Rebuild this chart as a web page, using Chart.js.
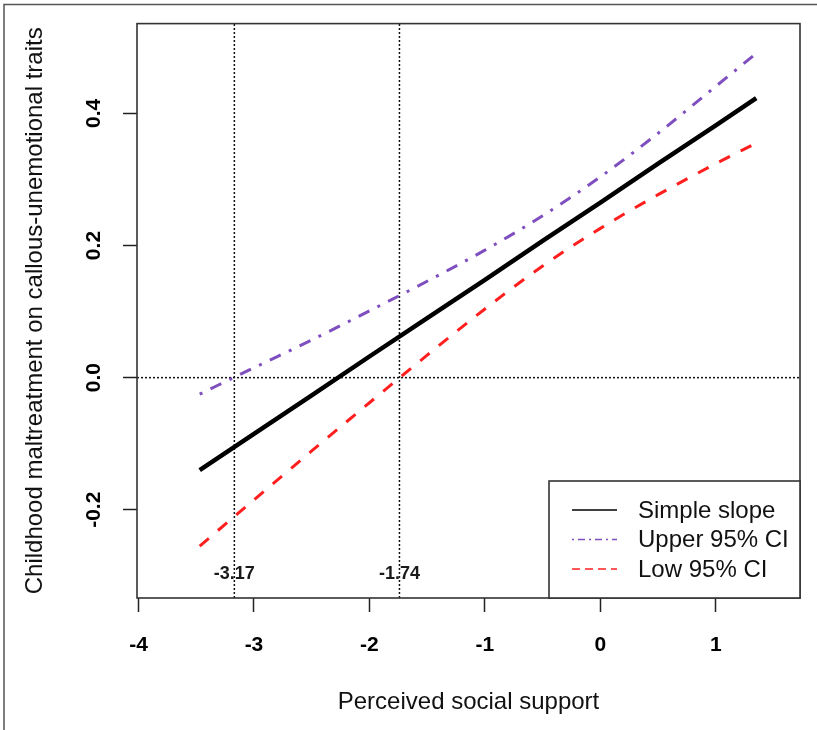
<!DOCTYPE html>
<html>
<head>
<meta charset="utf-8">
<script src="https://cdn.jsdelivr.net/npm/chart.js@4.4.1/dist/chart.umd.min.js"></script>
<style>
  html, body { margin: 0; padding: 0; background: #fff; }
  #wrap { width: 817px; height: 730px; }
</style>
</head>
<body>
<div id="wrap"><canvas id="slopes" width="817" height="730"></canvas></div>
<script>
(function () {
    "use strict";

    // values
    var supportValues = [-3.47, -3, -2.5, -2, -1.5, -1, -0.5, 0, 0.5, 1, 1.35];
    var simpleSlope = [-0.140, -0.085, -0.027, 0.032, 0.090, 0.148, 0.207, 0.265, 0.324, 0.382, 0.423];
    var upperCI = [-0.025, 0.015, 0.057, 0.101, 0.146, 0.193, 0.245, 0.304, 0.370, 0.441, 0.491];
    var lowerCI = [-0.255, -0.185, -0.111, -0.038, 0.034, 0.104, 0.169, 0.226, 0.277, 0.324, 0.355];
    var seriesLabels = ["Simple slope", "Upper 95% CI", "Low 95% CI"];

    var jnPoints = [-3.17, -1.74];
    var jnLabelY = -0.3;
    var xTicks = [-4, -3, -2, -1, 0, 1];
    var yTicks = [-0.2, 0, 0.2, 0.4];

    var X_MIN = -4.013, X_MAX = 1.729;
    var Y_MIN = -0.3336, Y_MAX = 0.536;
    var FONT = "'Liberation Sans', Arial, sans-serif";

    function toPoints(ys) {
        return supportValues.map(function (x, i) {
            return { x: x, y: ys[i] };
        });
    }

    var refLines = jnPoints.map(function (v) {
        return {
            data: [{ x: v, y: Y_MIN }, { x: v, y: Y_MAX }],
            borderColor: "#111",
            borderWidth: 1.5,
            borderDash: [2, 2],
            pointRadius: 0
        };
    });
    refLines.push({
        data: [{ x: X_MIN, y: 0 }, { x: X_MAX, y: 0 }],
        borderColor: "#111",
        borderWidth: 1.5,
        borderDash: [2, 2],
        pointRadius: 0
    });

    var series = [
        {
            label: seriesLabels[0],
            data: toPoints(simpleSlope),
            borderColor: "#000",
            borderWidth: 4.5,
            legendDash: [],
            pointRadius: 0
        },
        {
            label: seriesLabels[1],
            data: toPoints(upperCI),
            borderColor: "#7f4fbf",
            borderWidth: 3,
            borderDash: [3, 9, 12, 9],
            legendDash: [2, 4, 7, 4],
            cubicInterpolationMode: "monotone",
            pointRadius: 0
        },
        {
            label: seriesLabels[2],
            data: toPoints(lowerCI),
            borderColor: "#ff1f1f",
            borderWidth: 3,
            borderDash: [12, 12],
            legendDash: [8, 5],
            cubicInterpolationMode: "monotone",
            pointRadius: 0
        }
    ];

    var framePlugin = {
        id: "frame",
        beforeDraw: function (chart) {
            var ctx = chart.ctx;
            ctx.save();
            ctx.fillStyle = "#fff";
            ctx.fillRect(0, 0, chart.width, chart.height);
            ctx.strokeStyle = "#555";
            ctx.lineWidth = 1.5;
            ctx.beginPath();
            ctx.moveTo(4, chart.height);
            ctx.lineTo(4, 4.5);
            ctx.lineTo(chart.width, 4.5);
            ctx.stroke();
            ctx.restore();
        },
        afterDatasetsDraw: function (chart) {
            var ctx = chart.ctx, a = chart.chartArea;
            var xs = chart.scales.x, ys = chart.scales.y;
            ctx.save();
            ctx.strokeStyle = "#333";
            ctx.lineWidth = 1.6;
            ctx.strokeRect(a.left, a.top, a.right - a.left, a.bottom - a.top);

            ctx.fillStyle = "#1a1a1a";
            ctx.font = "bold 18px " + FONT;
            ctx.textAlign = "center";
            ctx.textBaseline = "middle";
            jnPoints.forEach(function (v) {
                ctx.fillText(v.toFixed(2), xs.getPixelForValue(v), ys.getPixelForValue(jnLabelY) - 2);
            });
            ctx.restore();
        }
    };

    var legendPlugin = {
        id: "legendBox",
        afterDraw: function (chart) {
            var ctx = chart.ctx, a = chart.chartArea;
            var left = a.right - 251, top = a.bottom - 117;
            ctx.save();
            ctx.fillStyle = "#fff";
            ctx.fillRect(left, top, a.right - left, a.bottom - top);
            ctx.strokeStyle = "#333";
            ctx.lineWidth = 1.6;
            ctx.strokeRect(left, top, a.right - left, a.bottom - top);

            ctx.font = "24px " + FONT;
            ctx.textBaseline = "middle";
            ctx.textAlign = "left";
            series.forEach(function (ds, i) {
                var y = top + 29 + i * 29.5;
                ctx.strokeStyle = ds.borderColor;
                ctx.lineWidth = 1.5;
                ctx.setLineDash(ds.legendDash);
                ctx.beginPath();
                ctx.moveTo(left + 23, y);
                ctx.lineTo(left + 68, y);
                ctx.stroke();
                ctx.setLineDash([]);
                ctx.fillStyle = "#111";
                ctx.fillText(ds.label, left + 89, y + 1);
            });
            ctx.restore();
        }
    };

    new Chart(document.getElementById("slopes"), {
        type: "line",
        data: { datasets: series.concat(refLines) },
        options: {
            responsive: false,
            animation: false,
            parsing: false,
            layout: { padding: { left: 0, right: 17, top: 22, bottom: 0 } },
            plugins: {
                legend: { display: false },
                tooltip: { enabled: false }
            },
            scales: {
                x: {
                    type: "linear",
                    min: X_MIN,
                    max: X_MAX,
                    afterBuildTicks: function (scale) {
                        scale.ticks = xTicks.map(function (v) { return { value: v }; });
                    },
                    afterFit: function (scale) { scale.height = 132; },
                    grid: {
                        drawOnChartArea: false,
                        drawTicks: true,
                        tickLength: 14,
                        tickColor: "#222",
                        tickWidth: 1.5
                    },
                    border: { display: false },
                    ticks: {
                        color: "#000",
                        font: { family: FONT, size: 21, weight: "bold" },
                        padding: 21,
                        maxRotation: 0,
                        callback: function (v) { return String(v); }
                    },
                    title: {
                        display: true,
                        text: "Perceived social support",
                        color: "#111",
                        font: { family: FONT, size: 24 },
                        padding: { top: 0, bottom: 13 }
                    }
                },
                y: {
                    type: "linear",
                    min: Y_MIN,
                    max: Y_MAX,
                    afterBuildTicks: function (scale) {
                        scale.ticks = yTicks.map(function (v) { return { value: v }; });
                    },
                    afterFit: function (scale) { scale.width = 137; },
                    grid: {
                        drawOnChartArea: false,
                        drawTicks: true,
                        tickLength: 14,
                        tickColor: "#222",
                        tickWidth: 1.5
                    },
                    border: { display: false },
                    ticks: {
                        color: "#000",
                        font: { family: FONT, size: 21, weight: "bold" },
                        padding: 11,
                        minRotation: 90,
                        maxRotation: 90,
                        crossAlign: "center",
                        callback: function (v) { return v.toFixed(1); }
                    },
                    title: {
                        display: true,
                        text: "Childhood maltreatment on callous-unemotional traits",
                        color: "#111",
                        font: { family: FONT, size: 24 },
                        padding: { top: 21, bottom: 0 }
                    }
                }
            }
        },
        plugins: [framePlugin, legendPlugin]
    });
})();
</script>
</body>
</html>
